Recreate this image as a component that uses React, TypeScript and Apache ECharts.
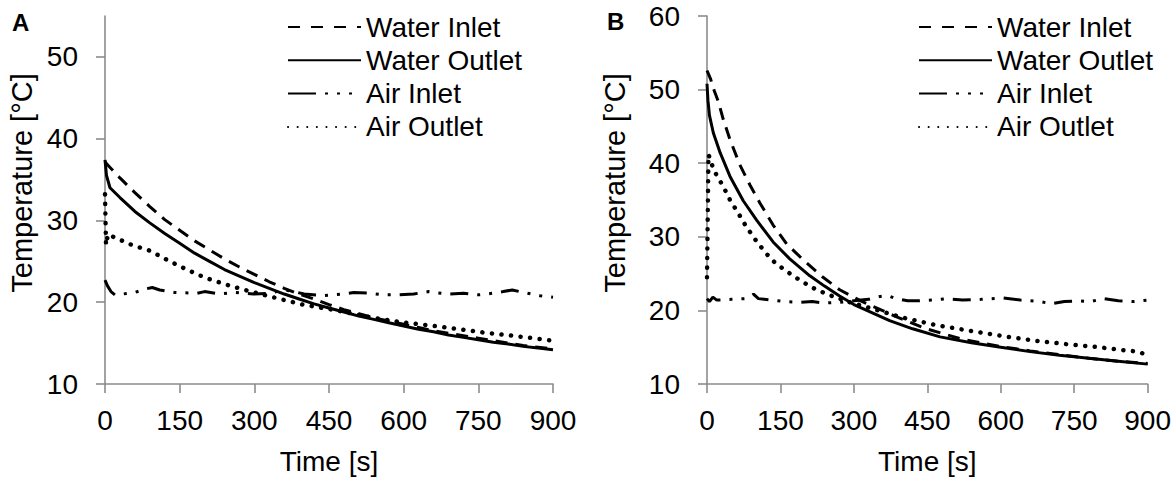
import React, { useEffect, useRef } from "react";
import * as echarts from "echarts";

// ---------- Data ----------
const SERIES_NAMES = ["Water Inlet", "Water Outlet", "Air Inlet", "Air Outlet"];
const X_TICKS = [0, 150, 300, 450, 600, 750, 900];
const Y_TICKS_A = [10, 20, 30, 40, 50];
const Y_TICKS_B = [10, 20, 30, 40, 50, 60];

// Panel A
const aWaterInletT = [0, 5, 30, 60, 90, 120, 150, 180, 210, 240, 270, 300, 330, 360, 390, 420, 450, 480, 510, 540, 570, 600, 630, 660, 690, 720, 750, 780, 810, 840, 870, 900];
const aWaterInletV = [37.2, 36.8, 35.2, 33.4, 31.7, 30.1, 28.8, 27.5, 26.4, 25.3, 24.3, 23.4, 22.5, 21.7, 21.0, 20.4, 19.7, 19.1, 18.6, 18.1, 17.7, 17.3, 16.9, 16.5, 16.2, 15.9, 15.6, 15.3, 15.0, 14.7, 14.5, 14.3];

const aWaterOutletT = [0, 3, 10, 30, 60, 90, 120, 150, 180, 210, 240, 270, 300, 330, 360, 390, 420, 450, 480, 510, 540, 570, 600, 630, 660, 690, 720, 750, 780, 810, 840, 870, 900];
const aWaterOutletV = [37.4, 35.5, 34.0, 32.8, 31.1, 29.7, 28.4, 27.2, 26.0, 25.0, 24.0, 23.2, 22.4, 21.7, 21.0, 20.4, 19.8, 19.3, 18.8, 18.3, 17.9, 17.5, 17.1, 16.7, 16.4, 16.0, 15.7, 15.4, 15.1, 14.9, 14.6, 14.4, 14.2];

const aAirInletT = [0, 5, 12, 20, 35, 60, 80, 95, 110, 140, 185, 200, 230, 260, 298, 330, 360, 380, 400, 440, 478, 500, 530, 560, 587, 620, 650, 687, 720, 750, 780, 800, 818, 840, 874, 900];
const aAirInletV = [22.7, 22.0, 21.3, 20.9, 21.0, 21.2, 21.6, 21.8, 21.5, 21.2, 21.1, 21.3, 21.0, 21.2, 21.0, 21.1, 21.5, 21.3, 21.0, 20.8, 21.0, 21.2, 21.1, 20.9, 20.9, 21.0, 21.3, 21.0, 21.1, 20.9, 21.1, 21.3, 21.5, 21.2, 20.8, 20.6];

const aAirOutletT = [0, 2, 6, 20, 54, 90, 127, 164, 201, 241, 281, 338, 398, 465, 530, 590, 647, 700, 760, 820, 860, 900];
const aAirOutletV = [33.2, 27.0, 28.3, 27.9, 27.0, 26.3, 25.1, 24.0, 23.0, 22.2, 21.5, 20.6, 19.7, 19.0, 18.2, 17.6, 17.2, 16.8, 16.3, 15.9, 15.6, 15.3];

// Panel B
const bWaterInletT = [0, 7, 15, 23, 33, 47, 67, 88, 108, 135, 163, 196, 237, 271, 314, 381, 448, 520, 600, 660, 720, 780, 840, 900];
const bWaterInletV = [52.6, 51.5, 49.8, 48.4, 46.0, 43.2, 39.8, 37.0, 34.6, 31.6, 29.0, 26.9, 24.5, 22.8, 21.3, 19.3, 17.5, 16.1, 15.1, 14.5, 14.0, 13.5, 13.1, 12.8];

const bWaterOutletT = [0, 2, 5, 13, 27, 47, 74, 101, 135, 169, 210, 240, 270, 300, 340, 373, 420, 476, 540, 600, 660, 720, 780, 840, 900];
const bWaterOutletV = [50.8, 48.5, 46.5, 44.1, 41.4, 38.2, 34.9, 32.3, 29.3, 27.0, 24.7, 23.3, 22.0, 20.8, 19.6, 18.6, 17.5, 16.4, 15.6, 15.0, 14.4, 13.9, 13.5, 13.1, 12.7];

const bAirInletT = [0, 5, 12, 20, 50, 80, 95, 105, 130, 160, 190, 215, 240, 270, 300, 330, 354, 370, 385, 410, 434, 460, 490, 522, 560, 605, 640, 680, 703, 730, 760, 784, 810, 840, 871, 900];
const bAirInletV = [21.6, 21.2, 21.8, 21.4, 21.5, 21.6, 22.2, 21.6, 21.4, 21.2, 21.1, 21.2, 21.0, 21.1, 21.3, 21.5, 21.9, 22.0, 21.6, 21.3, 21.3, 21.4, 21.6, 21.4, 21.5, 21.7, 21.4, 21.2, 20.9, 21.2, 21.3, 21.2, 21.6, 21.3, 21.2, 21.4];

const bAirOutletT = [0, 3, 10, 20, 32, 47, 64, 80, 100, 120, 140, 165, 190, 215, 245, 287, 334, 401, 468, 540, 615, 680, 736, 800, 850, 880, 900];
const bAirOutletV = [24.5, 41.2, 39.8, 38.3, 37.0, 35.0, 33.2, 31.4, 29.5, 27.8, 26.4, 25.2, 24.1, 23.1, 22.2, 21.2, 20.3, 19.0, 18.0, 17.2, 16.4, 15.8, 15.4, 15.0, 14.6, 14.4, 13.9];

// ---------- Styles ----------
const FONT = "Arial, 'Liberation Sans', sans-serif";
const AXIS_COLOR = "#8c8c8c";
const axisLineStyle = { color: AXIS_COLOR, width: 1.6 };

const STYLES: Record<string, any> = {
  "Water Inlet": { color: "#000", width: 3, type: [12, 8] },
  "Water Outlet": { color: "#000", width: 3, type: "solid" },
  "Air Inlet": { color: "#000", width: 3, type: [18, 9, 3, 9, 3, 9] },
  "Air Outlet": { color: "#000", width: 4.5, type: [0.1, 9.5], cap: "round" },
};

function pairs(ts: number[], vs: number[]) {
  return ts.map((t, i) => [t, vs[i]]);
}

function lineSeries(name: string, ts: number[], vs: number[], idx: number) {
  return {
    type: "line",
    name,
    xAxisIndex: idx,
    yAxisIndex: idx,
    data: pairs(ts, vs),
    showSymbol: false,
    symbol: "none",
    silent: true,
    itemStyle: { color: "#000" },
    lineStyle: STYLES[name],
  };
}

function xAxis(idx: number) {
  return {
    type: "value",
    gridIndex: idx,
    min: 0,
    max: 900,
    interval: 150,
    name: "Time [s]",
    nameLocation: "middle",
    nameGap: 63,
    nameTextStyle: { fontFamily: FONT, fontSize: 28, color: "#000" },
    axisLine: { show: true, onZero: false, lineStyle: axisLineStyle },
    axisTick: { show: true, length: 9, lineStyle: axisLineStyle, customValues: X_TICKS },
    axisLabel: { fontFamily: FONT, fontSize: 28, color: "#000", margin: 22, customValues: X_TICKS },
    splitLine: { show: false },
  };
}

function yAxis(idx: number, max: number, ticks: number[], nameGap: number) {
  return {
    type: "value",
    gridIndex: idx,
    min: 10,
    max,
    interval: 10,
    name: "Temperature [°C]",
    nameLocation: "middle",
    nameGap,
    nameTextStyle: { fontFamily: FONT, fontSize: 29, color: "#000", padding: [0, 0, 0, 34] },
    axisLine: { show: true, onZero: false, lineStyle: axisLineStyle },
    axisTick: { show: true, length: 9, lineStyle: axisLineStyle, customValues: ticks },
    axisLabel: { fontFamily: FONT, fontSize: 28, color: "#000", margin: 27, customValues: ticks },
    splitLine: { show: false },
  };
}

const legendData = [
  { name: "Water Inlet", lineStyle: { type: [12, 11] } },
  { name: "Water Outlet" },
  { name: "Air Inlet", lineStyle: { type: [28, 9, 3, 9, 3, 9, 3, 9] } },
  { name: "Air Outlet" },
];

function legend(left: number) {
  return {
    orient: "vertical",
    left,
    top: 13,
    padding: 0,
    itemWidth: 73,
    itemHeight: 14,
    itemGap: 5.3,
    selectedMode: false,
    itemStyle: { opacity: 0, color: "rgba(0,0,0,0)", borderWidth: 0 },
    textStyle: { fontFamily: FONT, fontSize: 28, color: "#000", lineHeight: 28 },
    data: legendData,
  };
}

export default function App() {
  const ref = useRef<HTMLDivElement>(null);
  useEffect(() => {
    if (!ref.current) return;
    const chart = echarts.init(ref.current, undefined, { renderer: "svg" });
    chart.setOption({
      animation: false,
      backgroundColor: "#fff",
      grid: [
        { left: 105, top: 16, width: 448, height: 371.5, containLabel: false },
        { left: 707, top: 16, width: 441, height: 370, containLabel: false },
      ],
      xAxis: [xAxis(0), xAxis(1)],
      yAxis: [yAxis(0, 55, Y_TICKS_A, 69), yAxis(1, 60, Y_TICKS_B, 78)],
      legend: [legend(287), legend(918)],
      graphic: [
        { type: "text", left: 12, top: 10, style: { text: "A", font: `bold 24px ${FONT}`, fill: "#000" } },
        { type: "text", left: 607, top: 9, style: { text: "B", font: `bold 24px ${FONT}`, fill: "#000" } },
      ],
      series: [
        lineSeries(SERIES_NAMES[2], aAirInletT, aAirInletV, 0),
        lineSeries(SERIES_NAMES[3], aAirOutletT, aAirOutletV, 0),
        lineSeries(SERIES_NAMES[1], aWaterOutletT, aWaterOutletV, 0),
        lineSeries(SERIES_NAMES[0], aWaterInletT, aWaterInletV, 0),
        lineSeries(SERIES_NAMES[2], bAirInletT, bAirInletV, 1),
        lineSeries(SERIES_NAMES[3], bAirOutletT, bAirOutletV, 1),
        lineSeries(SERIES_NAMES[1], bWaterOutletT, bWaterOutletV, 1),
        lineSeries(SERIES_NAMES[0], bWaterInletT, bWaterInletV, 1),
      ],
    });
    return () => chart.dispose();
  }, []);
  return (
    <div
      ref={ref}
      style={{ position: "absolute", left: 0, top: 0, width: 1174, height: 480 }}
    />
  );
}
